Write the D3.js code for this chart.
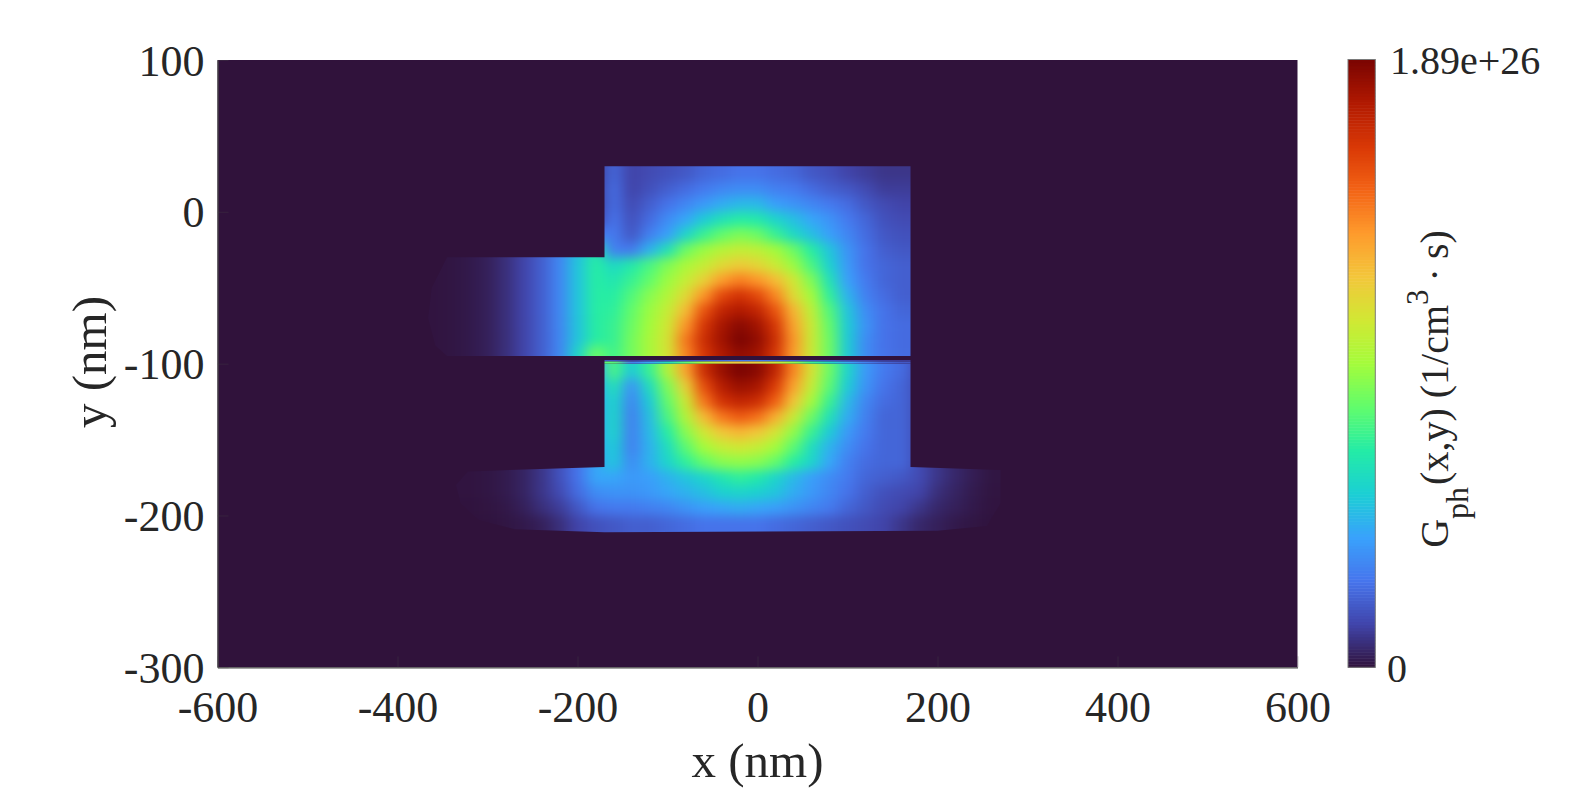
<!DOCTYPE html>
<html><head><meta charset="utf-8">
<script src="https://cdn.jsdelivr.net/npm/d3@7/dist/d3.min.js"></script>
<style>html,body{margin:0;padding:0;background:#fff}svg{display:block}text{font-family:"Liberation Serif",serif;fill:#262626}</style>
</head><body><svg id="c" width="1578" height="789"></svg>
<script>
const xTicks=[-600,-400,-200,0,200,400,600];
const xTickLabels=["-600","-400","-200","0","200","400","600"];
const yTicks=[-300,-200,-100,0,100];
const yTickLabels=["-300","-200","-100","0","100"];
const colorbarLabels=["0","1.89e+26"];
const turboStops=["#30123b","#4145ab","#4675ed","#39a2fc","#1bcfd4","#24eca6","#61fc6c","#a4fc3b","#d1e834","#f3c63a","#fe9b2d","#f36315","#d93806","#b11901","#7a0402"];

// Generation rate in percent of the maximum
const upperX=[-360,-340,-320,-300,-280,-260,-240,-220,-200,-180,-160,-140,-120,-100,-80,-60,-40,-20,0,20,40,60,80,100,120,140,160];
const upperY=[25,15,5,-5,-15,-25,-35,-45,-55,-65,-75,-85,-92];
const upperValues=[
[0,0,0,0,0,0,0,0,2,6,12,7,8,9,10,12,13,14,14,13,12,10,9,7,6,5,5],
[0,0,0,0,0,0,0,0,2,6,13,7,9,11,13,15,17,18,18,16,15,13,11,10,8,6,6],
[0,0,0,0,0,0,0,0,2,6,13,8,11,14,17,20,23,25,25,21,19,17,15,13,10,8,7],
[0,0,0,0,0,0,0,0,3,7,14,9,13,18,22,28,33,36,35,30,26,22,19,15,12,9,8],
[0.2,0.3,0.5,1,2,4,6,8,12,15,15,10,16,21,30,38,43,46,44,38,31,26,21,17,13,10,9],
[0.3,0.5,1,2,4,7,11,17,26,34,16,15,24,33,44,49,53,55,54,50,44,36,27,19,14,11,10],
[0.3,0.5,1,2,4,7,11,17,27,36,31,35,40,46,51,55,60,63,61,56,49,40,29,20,14,12,11],
[0.3,0.5,1,2,4,7,11,17,27,36,34,38,43,49,55,62,71,75,72,66,57,46,33,21,15,12,11],
[0.3,0.5,1,2,4,7,11,17,27,36,36,41,47,52,60,72,83,87,83,74,60,50,37,24,16,13,11],
[0.3,0.5,1,2,4,7,11,17,27,36,37,43,49,55,66,81,90,93,90,81,67,54,41,27,18,14,12],
[0.3,0.5,1,2,4,7,11,17,27,36,38,44,50,57,72,86,94,98,95,86,70,56,43,28,19,14,13],
[0.3,0.5,1,2,4,7,11,17,27,36,38,45,51,58,76,88,95,100,97,88,72,56,44,28,18,14,13],
[0.3,0.5,1,2,4,7,11,17,30,44,39,45,51,58,74,86,93,97,95,86,71,56,44,28,18,14,13]];
const lowerX=[-320,-300,-280,-260,-240,-220,-200,-180,-160,-140,-120,-100,-80,-60,-40,-20,0,20,40,60,80,100,120,140,160,180,200,220,240,260];
const lowerY=[-105,-115,-125,-135,-145,-155,-165,-175,-185,-195,-205];
const lowerValues=[
[0.3,0.6,1.2,2.5,5,9,14,22,40,28,38,52,70,88,96,100,98,90,74,58,44,30,20,15,13,8,5,3,1.5,0.5],
[0.3,0.6,1.2,2.5,5,9,14,22,33,19,32,46,62,82,92,96,94,85,70,55,42,28,19,14,12,8,5,3,1.5,0.5],
[0.3,0.6,1.2,2.5,5,9,14,22,30,17,28,43,56,76,87,90,88,79,64,50,38,25,17,13,12,8,5,3,1.5,0.5],
[0.3,0.6,1.2,2.5,5,9,14,22,30,16,26,40,52,66,76,80,77,68,56,44,33,23,16,12,12,8,5,3,1.5,0.5],
[0.3,0.6,1.2,2.5,5,9,14,22,30,16,25,36,47,57,64,67,64,58,48,38,28,20,15,12,12,8,5,3,1.5,0.5],
[0.3,0.6,1.2,2.5,5,9,14,22,28,16,24,32,42,50,55,57,55,50,42,32,24,18,14,12,12,8,5,3,1.5,0.5],
[0.3,0.6,1.2,2.5,5,9,14,22,27,18,24,30,37,43,47,48,47,43,36,30,22,16,13,12,12,8,5,3,1.5,0.5],
[0.3,0.6,1.2,2.5,5,9,14,22,22,20,21,24,27,30,34,37,35,30,25,21,18,15,12,11,10,8,5,3,1.5,0.5],
[0.3,0.6,1.2,2.5,5,8,13,18,19,19,20,22,24,26,29,30,29,27,23,20,17,14,11,9,8,7,4,2.5,1.2,0.4],
[0.2,0.4,0.8,2,4,6,10,14,15,15,16,17,19,21,22,23,22,21,19,17,15,12,10,8,7,5,3,2,1,0.3],
[0.1,0.2,0.5,1,2,4,7,9,10,11,11,12,13,14,14,14,14,13,12,11,10,9,8,7,5,3,2,1,0.5,0.2]];
const bandX=[-160,-140,-120,-100,-80,-60,-40,-20,0,20,40,60,80,100,120,140,160];
const bandEdges=[-97.6,-98.6,-100];
const bandValues=[
[10,6,8,9,10,11,13,15,15,14,12,11,10,8,7,6,6],
[42,15,22,32,42,52,60,64,62,56,48,38,30,22,16,12,10]];
// Outlines of the structure in nm
const upperShape=[[-170,30],[170,30],[170,-95],[-345,-95],[-358,-88],[-366,-70],[-362,-50],[-345,-30],[-170,-30]];
const lowerShape=[[-170,-100],[170,-100],[170,-168],[270,-170],[270,-192],[255,-207],[200,-210],[-170,-211],[-270,-209],[-310,-203],[-330,-192],[-335,-180],[-322,-171],[-170,-168]];

const svg=d3.select("#c");
const L=217.5,R=1297.5,T=60,B=667.3;
const x=d3.scaleLinear().domain([-600,600]).range([L,R]);
const y=d3.scaleLinear().domain([-300,100]).range([B,T]);
const color=d3.scaleLinear().domain(turboStops.map((_,i)=>i/(turboStops.length-1)*100)).range(turboStops).interpolate(d3.interpolateRgb);
const defs=svg.append("defs");
const blur=(id,sd)=>defs.append("filter").attr("id",id).attr("filterUnits","userSpaceOnUse").attr("x",0).attr("y",0).attr("width",1578).attr("height",789)
  .attr("color-interpolation-filters","sRGB").append("feGaussianBlur").attr("stdDeviation",sd);
blur("soft","7 5.5");blur("softX","6 0");
const line=d3.line().x(d=>x(d[0])).y(d=>y(d[1]));
const clip=(id,shape)=>defs.append("clipPath").attr("id",id).append("path").attr("d",line(shape)+"Z");
clip("cu",upperShape);clip("cl",lowerShape);
defs.append("clipPath").attr("id","cb").append("rect").attr("x",x(-170)).attr("width",x(170)-x(-170)).attr("y",0).attr("height",789);

svg.append("rect").attr("x",L).attr("y",T).attr("width",R-L).attr("height",B-T).attr("fill",color(0));

function edges(c){const e=[];for(let i=0;i<c.length-1;i++)e.push((c[i]+c[i+1])/2);
  return [c[0]-(c[1]-c[0])/2-40*Math.sign(c[1]-c[0]),...e,c[c.length-1]+(c[c.length-1]-c[c.length-2])/2+40*Math.sign(c[1]-c[0])];}
function patch(id,xs,ys,vals){
  const ex=edges(xs),ey=edges(ys);
  const cells=vals.flatMap((row,j)=>row.map((v,i)=>({i,j,v})));
  svg.append("g").attr("clip-path",`url(#${id})`).append("g").attr("filter","url(#soft)")
    .selectAll("rect").data(cells).join("rect")
    .attr("x",d=>x(ex[d.i])).attr("width",d=>x(ex[d.i+1])-x(ex[d.i])+.5)
    .attr("y",d=>y(ey[d.j])).attr("height",d=>y(ey[d.j+1])-y(ey[d.j])+.5)
    .attr("fill",d=>color(d.v));
}
patch("cu",upperX,upperY,upperValues);
patch("cl",lowerX,lowerY,lowerValues);
// thin layer just under the gap
const ebx=edges(bandX);
const bandCells=bandValues.flatMap((row,j)=>row.map((v,i)=>({i,j,v})));
svg.append("g").attr("clip-path","url(#cb)").append("g").attr("filter","url(#softX)")
  .selectAll("rect").data(bandCells).join("rect")
  .attr("x",d=>x(ebx[d.i])).attr("width",d=>x(ebx[d.i+1])-x(ebx[d.i])+.5)
  .attr("y",d=>y(bandEdges[d.j])).attr("height",d=>y(bandEdges[d.j+1])-y(bandEdges[d.j]))
  .attr("fill",d=>color(d.v));

// axes
const boxColor="#4a4a4a";
const gx=svg.append("g").attr("transform",`translate(0,${B})`)
 .call(d3.axisBottom(x).tickValues(xTicks).tickFormat((d,i)=>xTickLabels[i]).tickSizeInner(-11).tickSizeOuter(0).tickPadding(0));
const gy=svg.append("g").attr("transform",`translate(${L},0)`)
 .call(d3.axisLeft(y).tickValues(yTicks).tickFormat((d,i)=>yTickLabels[i]).tickSizeInner(-11).tickSizeOuter(0).tickPadding(13));
[gx,gy].forEach(g=>{g.select(".domain").attr("stroke",boxColor).attr("stroke-width",1.2);
  g.selectAll(".tick line").attr("stroke",boxColor).attr("stroke-width",1).attr("opacity",.3);
  g.selectAll("text").attr("font-size",44).style("font-family",'"Liberation Serif",serif').attr("fill","#262626");});
gx.selectAll("text").attr("dy",null).attr("y",55);
gy.selectAll("text").attr("dy",null).attr("dominant-baseline","auto").attr("y",15);

svg.append("text").attr("x",757.5).attr("y",777).attr("text-anchor","middle").attr("font-size",49).text("x (nm)");
svg.append("text").attr("transform","translate(106,362) rotate(-90)").attr("text-anchor","middle").attr("font-size",49).text("y (nm)");

// colour bar
const CL=1348,CR=1375.3;
const cy=d3.scaleLinear().domain([0,100]).range([B,59.5]);
const steps=d3.range(0,100,0.5);
svg.append("g").selectAll("rect").data(steps).join("rect")
 .attr("x",CL).attr("width",CR-CL).attr("y",d=>cy(d+.5)).attr("height",d=>cy(d)-cy(d+.5)+.5).attr("fill",d=>color(d+.25));
svg.append("rect").attr("x",CL).attr("y",59.5).attr("width",CR-CL).attr("height",B-59.5).attr("fill","none").attr("stroke","#7a7a7a").attr("stroke-width",1);
svg.append("text").attr("x",1390).attr("y",74).attr("font-size",40).text(colorbarLabels[1]);
svg.append("text").attr("x",1387).attr("y",682).attr("font-size",40).text(colorbarLabels[0]);
const t=svg.append("text").attr("transform","translate(1448,389) rotate(-90)").attr("text-anchor","middle").attr("font-size",40);
t.append("tspan").text("G");
t.append("tspan").attr("font-size",32).attr("dy",20).text("ph");
t.append("tspan").attr("dy",-20).attr("dx",2).text("(x,y) (1/cm");
t.append("tspan").attr("font-size",31).attr("dy",-20).text("3");
t.append("tspan").attr("dy",20).attr("dx",8).text("·");
t.append("tspan").attr("dx",9).text("s)");
</script></body></html>
